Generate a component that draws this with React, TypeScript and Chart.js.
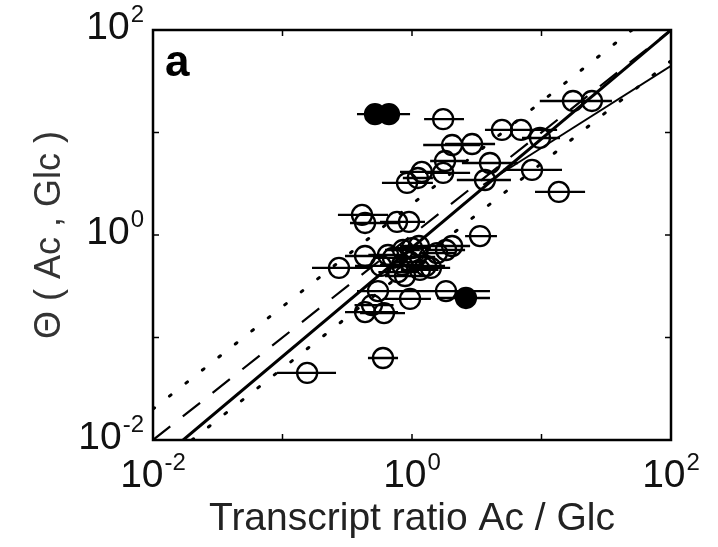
import React, { useEffect, useRef } from 'react';
import { Chart, registerables } from 'chart.js';

Chart.register(...registerables);

// ---- data ----
const openX = [17.5, 24.5, 1.74, 4.95, 6.95, 9.73, 2.04, 2.91, 1.80, 1.74, 1.19, 0.915, 1.11, 4.00, 3.66, 8.45, 13.6,
  0.411, 0.434, 0.766, 0.948, 3.35,
  0.273, 0.434, 0.576, 0.853, 1.13, 1.56, 2.04, 1.83, 0.883, 1.28, 1.07, 1.40, 0.837, 0.713, 0.966,
  0.780, 1.15, 1.00, 0.653,
  0.546, 0.966, 1.83, 0.434, 0.608, 0.491, 0.597, 0.155];
const openY = [20.3, 20.3, 13.5, 10.6, 10.6, 8.84, 7.55, 7.72, 5.27, 4.03, 4.12, 3.22, 3.60, 5.04, 3.44, 4.31, 2.63,
  1.57, 1.31, 1.34, 1.34, 0.977,
  0.477, 0.624, 0.499, 0.714, 0.781, 0.667, 0.781, 0.714, 0.398, 0.499, 0.610, 0.477, 0.510, 0.597, 0.545,
  0.435, 0.456, 0.746, 0.638,
  0.284, 0.238, 0.284, 0.177, 0.173, 0.207, 0.0631, 0.0451];
const openLow = [9.7, 15.2, 1.24, 3.66, 4.78, 7.07, 1.22, 1.80, 1.38, 1.26, 0.808, 0.586, 0.85, 2.43, 2.22, 5.05, 8.91,
  0.268, 0.332, 0.566, 0.676, 2.57,
  0.169, 0.304, 0.363, 0.619, 0.808, 1.15, 1.51, 1.26, 0.619, 0.883, 0.739, 0.966, 0.566, 0.5, 0.7,
  0.55, 0.82, 0.72, 0.46,
  0.376, 0.619, 1.38, 0.304, 0.397, 0.36, 0.457, 0.0907];
const openHigh = [28.3, 35.0, 2.52, 7.07, 13.2, 13.9, 3.35, 4.38, 2.57, 2.81, 1.80, 1.45, 1.45, 6.59, 5.81, 14.4, 21.7,
  0.653, 0.808, 1.15, 1.26, 4.53,
  0.474, 0.619, 0.966, 1.15, 1.64, 2.15, 2.81, 2.57, 1.26, 1.80, 1.51, 1.97, 1.15, 1.0, 1.3,
  1.10, 1.60, 1.40, 0.92,
  1.74, 1.40, 4.00, 0.780, 0.883, 0.72, 0.780, 0.259];

const filledX = [0.518, 0.664, 2.61];
const filledY = [15.1, 15.1, 0.243];
const filledLow = [0.376, 0.434, 1.56];
const filledHigh = [0.808, 0.966, 4.00];

// reference lines
const identityX = [0.01, 100];
const upperX = [0.01, 50];      // y = 2x
const lowerX = [0.02, 100];     // y = x/2
const fitX = [0.0171, 100];
const fitY = [0.01, 100];
const fitHighX = [3.55, 100];
const fitHighY = [3.09, 44.7];

const decades = [0.01, 0.1, 1, 10, 100];
const labelValues = [0.01, 1, 100];
const labelExponents = ['-2', '0', '2'];

const xTitle = 'Transcript ratio Ac / Glc';
const yTitle = 'Θ ( Ac , Glc )';
const panelLetter = 'a';

const FONT = "'Liberation Sans', Arial, Helvetica, sans-serif";

const framePlugin = {
  id: 'frameTicks',
  afterDatasetsDraw(chart: any) {
    const { ctx, chartArea, scales } = chart;
    const { left, right, top, bottom } = chartArea;
    const x = scales.x;
    const y = scales.y;
    ctx.save();
    ctx.strokeStyle = '#000';
    ctx.lineWidth = 2.5;
    ctx.strokeRect(left, top, right - left, bottom - top);
    ctx.lineWidth = 1.5;
    const len = 6;
    const seg = (x1: number, y1: number, x2: number, y2: number) => {
      ctx.beginPath();
      ctx.moveTo(x1, y1);
      ctx.lineTo(x2, y2);
      ctx.stroke();
    };
    decades.forEach((v) => {
      const px = x.getPixelForValue(v);
      seg(px, bottom, px, bottom - len);
      seg(px, top, px, top + len);
      const py = y.getPixelForValue(v);
      seg(left, py, left + len, py);
      seg(right, py, right - len, py);
    });

    // tick labels 10^n with superscript exponents
    ctx.fillStyle = '#111';
    ctx.textBaseline = 'alphabetic';
    ctx.textAlign = 'left';
    const baseFont = `39px ${FONT}`;
    const expFont = `24px ${FONT}`;
    const measure = (exp: string) => {
      ctx.font = baseFont;
      const wb = ctx.measureText('10').width;
      ctx.font = expFont;
      const we = ctx.measureText(exp).width;
      return { wb, we };
    };
    const draw = (exp: string, startX: number, baseY: number) => {
      const { wb } = measure(exp);
      ctx.font = baseFont;
      ctx.fillText('10', startX, baseY);
      ctx.font = expFont;
      ctx.fillText(exp, startX + wb + 1, baseY - 17);
    };
    labelValues.forEach((v, i) => {
      const exp = labelExponents[i];
      const { wb, we } = measure(exp);
      const total = wb + we + 1;
      const px = x.getPixelForValue(v);
      draw(exp, px - total / 2, bottom + 47);
      const py = y.getPixelForValue(v);
      draw(exp, left - 9 - total, py + 9);
    });

    ctx.fillStyle = '#000';
    ctx.font = `bold 44px ${FONT}`;
    ctx.fillText(panelLetter, left + 12, top + 46);
    ctx.restore();
  },
};

export default function App() {
  const ref = useRef<HTMLCanvasElement>(null);

  useEffect(() => {
    const canvas = ref.current;
    if (!canvas) return;

    const errorBars = (xs: number[], ys: number[], lo: number[], hi: number[]) => {
      const out: any[] = [];
      xs.forEach((_, i) => {
        out.push({ x: lo[i], y: ys[i] });
        out.push({ x: hi[i], y: ys[i] });
        out.push({ x: hi[i], y: null });
      });
      return out;
    };

    const lineDs = (data: any[], extra: any) => ({
      type: 'scatter',
      data,
      showLine: true,
      pointRadius: 0,
      borderColor: '#000',
      backgroundColor: '#000',
      fill: false,
      spanGaps: false,
      ...extra,
    });

    const chart = new Chart(canvas, {
      type: 'scatter',
      data: {
        datasets: [
          lineDs(identityX.map((v) => ({ x: v, y: v })), { borderWidth: 2.2, borderDash: [22, 16] }),
          lineDs(upperX.map((v) => ({ x: v, y: 2 * v })), { borderWidth: 3, borderDash: [2, 19], borderCapStyle: 'round' }),
          lineDs(lowerX.map((v) => ({ x: v, y: v / 2 })), { borderWidth: 3, borderDash: [2, 19], borderCapStyle: 'round' }),
          lineDs(fitX.map((v, i) => ({ x: v, y: fitY[i] })), { borderWidth: 3 }),
          lineDs(fitHighX.map((v, i) => ({ x: v, y: fitHighY[i] })), { borderWidth: 1.8 }),
          lineDs(errorBars(openX, openY, openLow, openHigh), { borderWidth: 2.3 }),
          lineDs(errorBars(filledX, filledY, filledLow, filledHigh), { borderWidth: 2.3 }),
          {
            type: 'scatter',
            data: openX.map((v, i) => ({ x: v, y: openY[i] })),
            pointRadius: 10,
            pointBorderWidth: 2.3,
            pointBorderColor: '#000',
            pointBackgroundColor: 'rgba(0,0,0,0)',
            borderColor: '#000',
            backgroundColor: 'rgba(0,0,0,0)',
          },
          {
            type: 'scatter',
            data: filledX.map((v, i) => ({ x: v, y: filledY[i] })),
            pointRadius: 10,
            pointBorderWidth: 2.3,
            pointBorderColor: '#000',
            pointBackgroundColor: '#000',
            borderColor: '#000',
            backgroundColor: '#000',
          },
        ] as any,
      },
      options: {
        responsive: false,
        animation: false,
        devicePixelRatio: 1,
        layout: { padding: { left: 0, right: 47, top: 30, bottom: 0 } },
        plugins: { legend: { display: false }, tooltip: { enabled: false } },
        scales: {
          x: {
            type: 'logarithmic',
            min: 0.01,
            max: 100,
            afterBuildTicks: (s: any) => {
              s.ticks = decades.map((v) => ({ value: v }));
            },
            afterFit: (s: any) => {
              s.height = 107;
            },
            grid: { display: false, drawTicks: false },
            border: { display: false },
            ticks: {
              autoSkip: false,
              maxRotation: 0,
              padding: 14,
              font: { family: FONT, size: 36, lineHeight: 1 },
              callback: () => '',
            },
            title: {
              display: true,
              text: xTitle,
              color: '#222',
              font: { family: FONT, size: 39, lineHeight: 1 },
              padding: { top: 0, bottom: 8 },
            },
          },
          y: {
            type: 'logarithmic',
            min: 0.01,
            max: 100,
            afterBuildTicks: (s: any) => {
              s.ticks = decades.map((v) => ({ value: v }));
            },
            afterFit: (s: any) => {
              s.width = 153;
            },
            grid: { display: false, drawTicks: false },
            border: { display: false },
            ticks: {
              autoSkip: false,
              padding: 10,
              font: { family: FONT, size: 36, lineHeight: 1 },
              callback: () => '',
            },
            title: {
              display: true,
              text: yTitle,
              color: '#333',
              font: { family: FONT, size: 36, lineHeight: 1 },
              padding: { top: 32, bottom: 0 },
            },
          },
        },
      } as any,
      plugins: [framePlugin],
    });

    return () => chart.destroy();
  }, []);

  return (
    <div style={{ position: 'fixed', left: 0, top: 0, width: 718, height: 547, background: '#fff' }}>
      <canvas ref={ref} width={718} height={547} style={{ width: 718, height: 547, display: 'block' }} />
    </div>
  );
}
